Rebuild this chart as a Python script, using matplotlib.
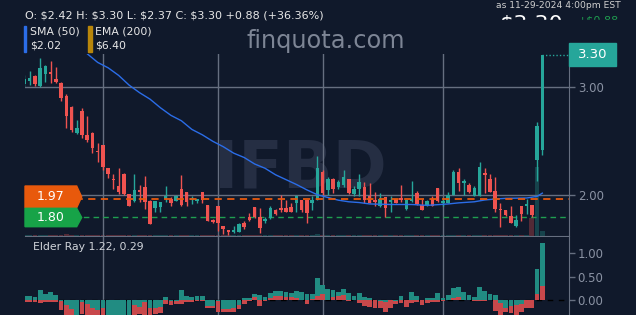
import numpy as np
import matplotlib
matplotlib.use("Agg")
import matplotlib.pyplot as plt
from matplotlib.patches import Polygon, Rectangle

# ---- data ----
opens = [3.03, 3.06, 3.10, 3.01, 3.12, 3.14, 3.08, 3.04, 2.92, 2.82,
         2.58, 2.78, 2.56, 2.58, 2.41, 2.47, 2.25, 2.15, 2.09, 2.20,
         2.01, 1.95, 2.05, 2.08, 1.95, 1.88, 1.89, 1.97, 1.97, 1.95,
         2.06, 2.03, 1.96, 1.95, 2.03, 1.91, 1.77, 1.90, 1.72, 1.68,
         1.66, 1.66, 1.74, 1.80, 1.89, 1.80, 1.76, 1.79, 1.86, 1.88,
         1.88, 1.89, 1.93, 1.96, 1.96, 1.93, 1.96, 2.22, 2.05, 2.15,
         2.08, 2.10, 2.15, 2.01, 2.06, 2.08, 1.99, 1.96, 1.90, 1.98,
         1.94, 1.97, 1.97, 1.87, 1.95, 2.02, 1.91, 1.91, 1.97, 2.07,
         1.93, 1.93, 2.00, 2.22, 2.11, 2.10, 1.99, 1.99, 2.21, 2.15,
         2.04, 1.87, 1.86, 1.81, 1.72, 1.90, 1.90, 1.91, 2.33, 2.42]
highs = [3.11, 3.15, 3.11, 3.27, 3.21, 3.24, 3.19, 3.05, 2.94, 2.83,
         2.70, 2.81, 2.73, 2.59, 2.48, 2.47, 2.25, 2.20, 2.25, 2.21,
         2.01, 2.20, 2.10, 2.18, 1.96, 1.95, 1.94, 2.09, 1.98, 2.00,
         2.19, 2.03, 1.99, 1.97, 2.03, 1.91, 1.78, 1.90, 1.72, 1.68,
         1.72, 1.74, 1.76, 1.84, 1.89, 1.88, 1.80, 1.90, 1.87, 2.00,
         1.96, 1.93, 2.00, 1.96, 1.96, 1.99, 2.36, 2.23, 2.17, 2.16,
         2.14, 2.23, 2.15, 2.09, 2.20, 2.12, 2.11, 2.03, 2.02, 1.98,
         1.99, 1.97, 2.10, 1.96, 2.13, 2.04, 1.97, 1.96, 1.99, 2.07,
         1.97, 2.03, 2.23, 2.25, 2.15, 2.11, 2.09, 2.31, 2.25, 2.20,
         2.17, 1.93, 1.86, 1.90, 1.82, 1.90, 1.97, 1.91, 2.68, 3.30]
lows = [3.00, 3.02, 3.01, 3.00, 3.05, 3.04, 3.04, 2.87, 2.62, 2.59,
        2.57, 2.53, 2.49, 2.39, 2.31, 2.23, 2.16, 2.06, 2.01, 2.00,
        1.90, 1.94, 1.94, 1.87, 1.73, 1.85, 1.85, 1.94, 1.90, 1.95,
        1.90, 1.90, 1.92, 1.93, 1.93, 1.76, 1.74, 1.67, 1.64, 1.63,
        1.65, 1.66, 1.69, 1.76, 1.79, 1.65, 1.74, 1.78, 1.82, 1.85,
        1.85, 1.85, 1.85, 1.85, 1.74, 1.86, 1.96, 2.00, 2.00, 2.02,
        2.06, 2.08, 2.01, 1.99, 1.99, 1.93, 1.93, 1.90, 1.89, 1.80,
        1.85, 1.93, 1.94, 1.86, 1.94, 1.91, 1.86, 1.90, 1.90, 1.94,
        1.90, 1.93, 2.00, 2.04, 2.00, 2.02, 1.99, 1.99, 2.02, 2.03,
        1.85, 1.71, 1.81, 1.74, 1.71, 1.76, 1.83, 1.80, 2.13, 2.37]
closes = [3.08, 3.09, 3.03, 3.18, 3.20, 3.12, 3.05, 2.90, 2.73, 2.60,
          2.62, 2.56, 2.51, 2.44, 2.40, 2.26, 2.20, 2.14, 2.03, 2.01,
          1.90, 2.05, 2.03, 1.94, 1.73, 1.95, 1.94, 1.99, 1.93, 1.99,
          1.91, 1.94, 1.97, 1.96, 1.96, 1.76, 1.75, 1.74, 1.69, 1.66,
          1.68, 1.73, 1.71, 1.77, 1.80, 1.70, 1.78, 1.88, 1.83, 1.86,
          1.85, 1.85, 1.99, 1.86, 1.84, 1.96, 2.25, 2.02, 2.15, 2.06,
          2.12, 2.17, 2.02, 2.06, 2.12, 1.96, 1.93, 1.94, 1.97, 1.88,
          1.96, 1.93, 1.96, 1.96, 1.96, 1.92, 1.86, 1.95, 1.90, 1.95,
          1.95, 2.00, 2.22, 2.11, 2.13, 2.03, 2.07, 2.26, 2.19, 2.03,
          1.87, 1.86, 1.82, 1.74, 1.77, 1.83, 1.92, 1.82, 2.64, 3.30]
volumes = [0.05, 0.04, 0.03, 0.06, 0.04, 0.05, 0.03, 0.05, 0.07, 0.06,
           0.04, 0.05, 0.04, 0.05, 0.04, 0.06, 0.05, 0.04, 0.05, 0.04,
           0.05, 0.06, 0.03, 0.04, 0.06, 0.04, 0.03, 0.03, 0.02, 0.02,
           0.05, 0.03, 0.02, 0.02, 0.03, 0.05, 0.02, 0.04, 0.03, 0.03,
           0.02, 0.03, 0.02, 0.02, 0.03, 0.04, 0.02, 0.03, 0.02, 0.03,
           0.02, 0.02, 0.03, 0.03, 0.04, 0.02, 0.08, 0.05, 0.03, 0.03,
           0.02, 0.03, 0.03, 0.02, 0.03, 0.03, 0.02, 0.02, 0.02, 0.03,
           0.02, 0.02, 0.02, 0.02, 0.03, 0.02, 0.02, 0.02, 0.02, 0.02,
           0.02, 0.02, 0.05, 0.04, 0.02, 0.02, 0.02, 0.05, 0.03, 0.03,
           0.04, 0.05, 0.02, 0.03, 0.03, 0.03, 0.02, 1.20, 4.60, 0.27]
bull_power = [0.08, 0.08, 0.06, 0.21, 0.13, 0.17, 0.10, -0.02, -0.10, -0.20,
              -0.33, -0.05, -0.08, -0.16, -0.22, -0.18, -0.34, -0.35, -0.34, -0.33,
              -0.34, -0.10, -0.14, -0.04, -0.17, -0.16, -0.15, 0.06, -0.02, -0.03,
              0.22, 0.08, 0.07, 0.08, 0.09, -0.13, -0.12, -0.02, -0.20, -0.20,
              -0.18, -0.10, 0.05, 0.04, 0.12, 0.10, 0.06, 0.14, 0.19, 0.19,
              0.17, 0.14, 0.19, 0.16, 0.12, 0.12, 0.47, 0.32, 0.23, 0.21,
              0.16, 0.23, 0.14, 0.09, 0.15, 0.06, 0.04, -0.01, -0.02, -0.04,
              -0.01, -0.02, 0.09, -0.01, 0.17, 0.09, -0.01, 0.04, 0.05, 0.14,
              0.04, 0.10, 0.25, 0.28, 0.16, 0.10, 0.07, 0.28, 0.19, 0.12,
              0.11, -0.06, -0.16, -0.13, -0.10, -0.09, 0.01, -0.01, 0.67, 1.22]
bear_power = [-0.05, -0.05, -0.04, -0.07, -0.04, -0.04, -0.04, -0.21, -0.35, -0.45,
              -0.50, -0.30, -0.32, -0.36, -0.40, -0.42, -0.42, -0.46, -0.44, -0.40,
              -0.42, -0.34, -0.30, -0.33, -0.40, -0.30, -0.28, -0.09, -0.10, -0.09,
              -0.08, -0.04, -0.04, -0.03, -0.03, -0.18, -0.18, -0.26, -0.26, -0.26,
              -0.25, -0.20, -0.09, -0.02, 0.07, -0.12, -0.03, 0.05, 0.085, 0.085,
              0.07, 0.06, 0.05, 0.01, -0.09, 0.03, 0.085, 0.12, 0.01, 0.07,
              0.085, 0.10, -0.02, 0.00, -0.07, -0.13, -0.14, -0.16, -0.18, -0.26,
              -0.18, -0.09, -0.07, -0.14, -0.07, -0.04, -0.11, -0.06, -0.04, -0.035,
              -0.02, 0.01, 0.035, 0.06, 0.00, 0.00, -0.02, -0.03, -0.03, 0.00,
              -0.23, -0.32, -0.25, -0.28, -0.33, -0.25, -0.16, -0.16, 0.12, 0.29]
sma_days = [12, 14, 16, 18, 20, 22, 24, 26, 28, 30, 32, 34, 36, 38, 40, 42, 44,
            46, 48, 50, 52, 54, 56, 58, 60, 62, 64, 66, 70, 74, 77, 81, 83, 86,
            88, 90, 92, 96, 98, 99]
sma_vals = [3.31, 3.23, 3.18, 3.11, 3.02, 2.95, 2.89, 2.81, 2.74, 2.69, 2.61,
            2.56, 2.50, 2.45, 2.39, 2.35, 2.29, 2.25, 2.19, 2.145, 2.10, 2.05,
            2.005, 1.98, 1.955, 1.94, 1.933, 1.92, 1.915, 1.915, 1.907, 1.92,
            1.93, 1.94, 1.957, 1.966, 1.972, 1.975, 1.99, 2.02]
month_starts = [15, 37, 57, 80]
price_ticks = [2.00, 3.00]
elder_ticks = [0.00, 0.50, 1.00]
alert_levels = [1.97, 1.80]
alert_labels = ["1.97", "1.80"]
last_price = 3.30

W, H = 636, 315
BG = '#10192b'
UP = '#26a69a'
DOWN = '#ef5350'
GRID = '#666f80'
TICKC = '#8a92a3'
ORANGE = '#e8590c'
GREEN = '#17a348'
BLUE = '#2b6de8'
GOLD = '#b8860b'


def fx(px):
    return px / W


def fy(py):
    return 1 - py / H


fig = plt.figure(figsize=(6.36, 3.15), dpi=100, facecolor=BG)

rect_price = [fx(25), fy(235.5), fx(569) - fx(25), fy(54) - fy(235.5)]
axv = fig.add_axes(rect_price, facecolor=BG)
ax = fig.add_axes(rect_price)
ax.patch.set_visible(False)
axe = fig.add_axes([fx(25), 0, fx(569) - fx(25), fy(236.5)], facecolor=BG)

x = np.arange(len(closes))
xlim = (0.1, 104.1)

# volume (behind)
vcol = [UP if c >= o else DOWN for o, c in zip(opens, closes)]
axv.bar(x, volumes, width=0.92, color=vcol, alpha=0.3, linewidth=0)
axv.set_xlim(*xlim)
axv.set_ylim(0, 12.1)
axv.axis('off')

# watermark
ax.text(fx(300), fy(170), "IFBD", fontsize=47, fontweight='bold', color='#252e43',
        ha='center', va='center', zorder=0, transform=fig.transFigure)

# candles
o = np.array(opens); c = np.array(closes)
cols = [UP if cc >= oo else DOWN for oo, cc in zip(opens, closes)]
ax.vlines(x, lows, highs, colors=cols, linewidth=1, zorder=3)
body_lo = np.minimum(o, c)
body_h = np.maximum(np.abs(c - o), 0.012)
ax.bar(x, body_h, bottom=body_lo, width=0.68, color=cols, linewidth=0, zorder=4)

# SMA
ax.plot(sma_days, sma_vals, color=BLUE, lw=1, zorder=5)

# alert lines
ax.axhline(alert_levels[0], color=ORANGE, lw=1.3, dashes=(4, 3), zorder=5)
ax.axhline(alert_levels[1], color='#1f9e50', lw=1, dashes=(4, 3), zorder=2)

# last price dotted line
ax.plot([x[-1], xlim[1]], [last_price, last_price], color=UP, lw=1, ls=(0, (1, 1.5)),
        zorder=5, clip_on=False)

ax.set_xlim(*xlim)
ax.set_ylim(1.628, 3.308)
ax.set_xticks(month_starts)
ax.set_xticklabels([])
ax.tick_params(axis='x', length=0)
ax.yaxis.tick_right()
ax.set_yticks(price_ticks)
ax.set_yticklabels(["%.2f" % t for t in price_ticks])
ax.tick_params(axis='y', colors=GRID, labelcolor=TICKC, labelsize=8.5,
               length=4.3, width=1, pad=2)
ax.grid(True, color=GRID, lw=1)
ax.set_axisbelow(True)
for s in ['left', 'top']:
    ax.spines[s].set_visible(False)
for s in ['right', 'bottom']:
    ax.spines[s].set_color(GRID)

# elder ray
bull = np.array(bull_power); bear = np.array(bear_power)
bull_big = np.abs(bull) >= np.abs(bear)
first = np.where(bull_big, bull, bear)
second = np.where(bull_big, bear, bull)
TEAL2 = '#218c82'
RED2 = '#c8484b'
axe.bar(x, first, width=0.92, color=[TEAL2 if b else RED2 for b in bull_big],
        linewidth=0, zorder=2)
axe.bar(x, second, width=0.92, color=[RED2 if b else TEAL2 for b in bull_big],
        linewidth=0, zorder=3)
axe.axhline(0, color='#000000', lw=1, dashes=(4, 4), zorder=1)
axe.set_xlim(*xlim)
axe.set_ylim(-0.319, 1.351)
axe.set_xticks(month_starts)
axe.set_xticklabels([])
axe.tick_params(axis='x', length=0)
axe.yaxis.tick_right()
axe.set_yticks(elder_ticks)
axe.set_yticklabels(["%.2f" % t for t in elder_ticks])
axe.tick_params(axis='y', colors=GRID, labelcolor=TICKC, labelsize=8.5,
                length=4.3, width=1, pad=2)
axe.grid(True, axis='x', color=GRID, lw=1)
axe.set_axisbelow(True)
for s in ['left', 'top', 'bottom']:
    axe.spines[s].set_visible(False)
axe.spines['right'].set_color(GRID)
fig.text(fx(33), fy(247), "Elder Ray 1.22, 0.29", color='#d0d4da',
         fontsize=7.8, va='center', ha='left')

# alert labels on the left
for (y0, y1), txt, col in [((186, 207.7), alert_labels[0], ORANGE),
                           ((208.3, 226.7), alert_labels[1], GREEN)]:
    ym = (y0 + y1) / 2
    pts = [(fx(25), fy(y0)), (fx(76.7), fy(y0)), (fx(81.7), fy(ym)),
           (fx(76.7), fy(y1)), (fx(25), fy(y1))]
    fig.patches.append(Polygon(pts, closed=True, color=col, transform=fig.transFigure,
                               zorder=6))
    fig.text(fx(51), fy(ym), txt, color='white', fontsize=9, ha='center',
             va='center', zorder=7)

# last price box
fig.patches.append(Rectangle((fx(569), fy(65.5)), fx(47), fy(43) - fy(65.5),
                             color=UP, transform=fig.transFigure, zorder=6))
fig.text(fx(592.5), fy(54.5), "%.2f" % last_price, color='white', fontsize=9.5,
         ha='center', va='center', zorder=7)

# header texts
fig.text(fx(25), fy(15), "O: \\$2.42 H: \\$3.30 L: \\$2.37 C: \\$3.30 +0.88 (+36.36%)",
         color='#e8e8e8', fontsize=8, va='center', ha='left')
fig.text(fx(621), fy(6), "as 11-29-2024 4:00pm EST", color='#d0d0d0',
         fontsize=6.6, va='center', ha='right')
# big quote text, only its top shows above the chart
fig.text(fx(499), fy(15.5), "\\$3.30", color='white', fontsize=16, va='top', ha='left',
         zorder=3)
fig.text(fx(578), fy(15.5), "+\\$0.88", color='#1f9e50', fontsize=8, va='top', ha='left',
         zorder=3)
fig.patches.append(Rectangle((fx(480), fy(40)), fx(156), fy(20) - fy(40), color=BG,
                             transform=fig.transFigure, zorder=4))

# legend
fig.patches.append(Rectangle((fx(24), fy(51.5)), fx(2), fy(26) - fy(51.5), color=BLUE,
                             transform=fig.transFigure))
fig.patches.append(Rectangle((fx(87.5), fy(51.5)), fx(4), fy(26) - fy(51.5), color=GOLD,
                             transform=fig.transFigure))
fig.text(fx(30), fy(31.5), "SMA (50)", color='#e8e8e8', fontsize=7.8, va='center')
fig.text(fx(30), fy(46), "\\$2.02", color='#e8e8e8', fontsize=7.8, va='center')
fig.text(fx(95), fy(31.5), "EMA (200)", color='#e8e8e8', fontsize=7.8, va='center')
fig.text(fx(95), fy(46), "\\$6.40", color='#e8e8e8', fontsize=7.8, va='center')

fig.text(fx(326), fy(41), "finquota.com", color='#7d8595', fontsize=17.3,
         va='center', ha='center')

fig.savefig("out.png", dpi=100, facecolor=BG)
